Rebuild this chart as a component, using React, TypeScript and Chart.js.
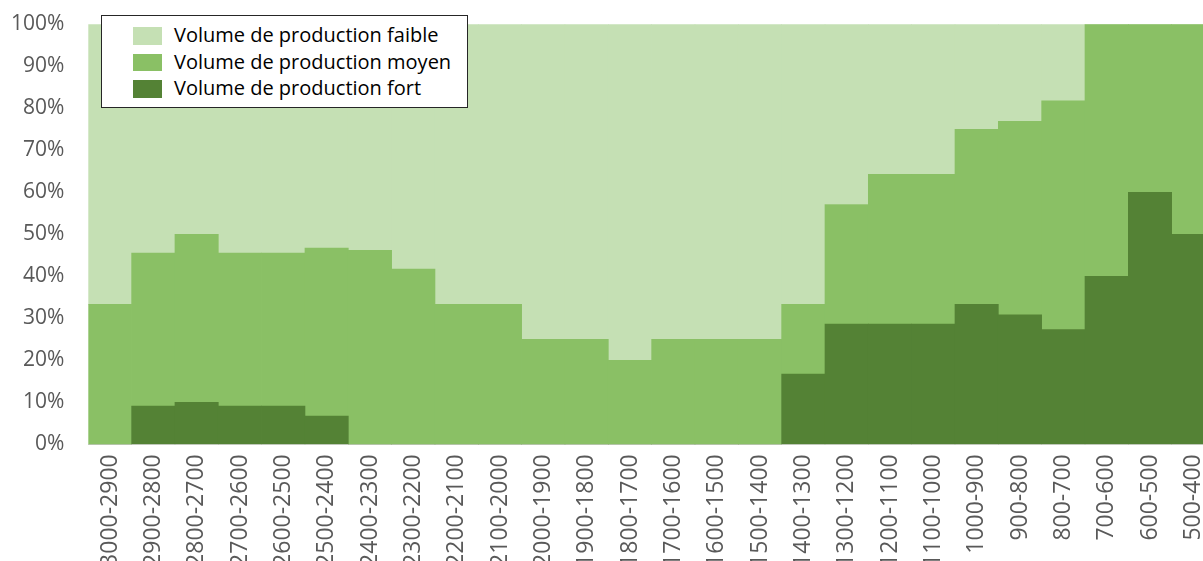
import React, { useEffect, useRef } from 'react';
import { Chart, registerables } from 'chart.js';

Chart.register(...registerables);

const categories = [
  '3000-2900', '2900-2800', '2800-2700', '2700-2600', '2600-2500', '2500-2400',
  '2400-2300', '2300-2200', '2200-2100', '2100-2000', '2000-1900', '1900-1800',
  '1800-1700', '1700-1600', '1600-1500', '1500-1400', '1400-1300', '1300-1200',
  '1200-1100', '1100-1000', '1000-900', '900-800', '800-700', '700-600',
  '600-500', '500-400',
];

// shares in percent, stacked bottom-up: fort, moyen, faible
const fortValues = [
  0, 9.1, 10, 9.1, 9.1, 6.7, 0, 0, 0, 0, 0, 0, 0, 0, 0, 0,
  16.7, 28.6, 28.6, 28.6, 33.3, 30.8, 27.3, 40, 60, 50,
];
const moyenValues = [
  33.3, 36.4, 40, 36.4, 36.4, 40, 46.2, 41.7, 33.3, 33.3, 25, 25, 20, 25, 25, 25,
  16.6, 28.5, 35.7, 35.7, 41.7, 46.1, 54.5, 60, 40, 50,
];
const faibleValues = [
  66.7, 54.5, 50, 54.5, 54.5, 53.3, 53.8, 58.3, 66.7, 66.7, 75, 75, 80, 75, 75, 75,
  66.7, 42.9, 35.7, 35.7, 25, 23.1, 18.2, 0, 0, 0,
];

const seriesNames = [
  'Volume de production faible',
  'Volume de production moyen',
  'Volume de production fort',
];

const COLOR_FAIBLE = '#C5E0B4';
const COLOR_MOYEN = '#8AC065';
const COLOR_FORT = '#548235';
const TICK_COLOR = '#595959';
const FONT = "'Open Sans', sans-serif";

const CANVAS_W = 1215;
const CANVAS_H = 561;
const AREA_LEFT = 88.3;
const AREA_TOP = 24.3;
const AREA_BOTTOM = 444.3;

function zeroPadding(scale: any) {
  scale.paddingTop = 0;
  scale.paddingBottom = 0;
  scale.paddingLeft = 0;
  scale.paddingRight = 0;
}

export default function App() {
  const canvasRef = useRef<HTMLCanvasElement | null>(null);

  useEffect(() => {
    const canvas = canvasRef.current;
    if (!canvas) return;
    const chart = new Chart(canvas, {
      type: 'bar',
      data: {
        labels: categories,
        datasets: [
          {
            label: seriesNames[2],
            data: fortValues,
            backgroundColor: COLOR_FORT,
            borderWidth: 0,
            barPercentage: 1,
            categoryPercentage: 1,
            stack: 's',
          },
          {
            label: seriesNames[1],
            data: moyenValues,
            backgroundColor: COLOR_MOYEN,
            borderWidth: 0,
            barPercentage: 1,
            categoryPercentage: 1,
            stack: 's',
          },
          {
            label: seriesNames[0],
            data: faibleValues,
            backgroundColor: COLOR_FAIBLE,
            borderWidth: 0,
            barPercentage: 1,
            categoryPercentage: 1,
            stack: 's',
          },
        ],
      },
      options: {
        responsive: false,
        animation: false,
        devicePixelRatio: 1,
        layout: { padding: { top: AREA_TOP, left: 0, right: 0, bottom: 0 } },
        plugins: {
          legend: { display: false },
          tooltip: { enabled: false },
        },
        scales: {
          x: {
            stacked: true,
            grid: { display: false, drawTicks: false },
            border: { display: true, color: '#D9D9D9', width: 1 },
            ticks: {
              autoSkip: false,
              minRotation: 90,
              maxRotation: 90,
              padding: 10,
              color: TICK_COLOR,
              font: { family: FONT, size: 23 },
            },
            afterFit: (scale: any) => {
              scale.height = CANVAS_H - AREA_BOTTOM;
              zeroPadding(scale);
            },
          },
          y: {
            stacked: true,
            min: 0,
            max: 100,
            grid: { display: false, drawTicks: false },
            border: { display: false },
            ticks: {
              stepSize: 10,
              padding: 24,
              color: TICK_COLOR,
              font: { family: FONT, size: 21 },
              callback: (v: any) => v + '%',
            },
            afterFit: (scale: any) => {
              scale.width = AREA_LEFT;
              zeroPadding(scale);
            },
          },
        },
      },
    });
    return () => chart.destroy();
  }, []);

  const legendItems = [
    { name: seriesNames[0], color: COLOR_FAIBLE },
    { name: seriesNames[1], color: COLOR_MOYEN },
    { name: seriesNames[2], color: COLOR_FORT },
  ];

  return (
    <div
      style={{
        position: 'fixed',
        left: 0,
        top: 0,
        width: 1203,
        height: 561,
        overflow: 'hidden',
        background: '#ffffff',
      }}
    >
      <canvas
        ref={canvasRef}
        width={CANVAS_W}
        height={CANVAS_H}
        style={{ display: 'block', width: CANVAS_W, height: CANVAS_H }}
      />
      <div
        style={{
          position: 'absolute',
          left: 101,
          top: 15,
          width: 365,
          height: 91,
          border: '1px solid #262626',
          background: '#ffffff',
          fontFamily: FONT,
        }}
      >
        {legendItems.map((it, i) => (
          <div key={it.name}>
            <div
              style={{
                position: 'absolute',
                left: 31,
                top: 11 + i * 26.5,
                width: 29,
                height: 17.5,
                background: it.color,
              }}
            />
            <div
              style={{
                position: 'absolute',
                left: 72,
                top: 5 + i * 26.5,
                fontSize: 20,
                lineHeight: '28px',
                color: '#000000',
                whiteSpace: 'nowrap',
              }}
            >
              {it.name}
            </div>
          </div>
        ))}
      </div>
    </div>
  );
}
